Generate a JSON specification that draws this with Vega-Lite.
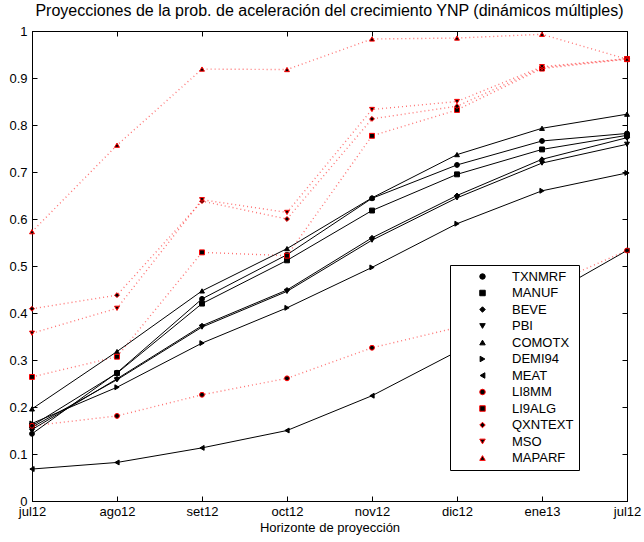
{
  "$schema": "https://vega.github.io/schema/vega-lite/v6.json",
  "width": 595,
  "height": 470,
  "autosize": {"type": "none"},
  "padding": {"left": 32, "top": 31, "right": 17, "bottom": 41},
  "background": "white",
  "title": {"text": "Proyecciones de la prob. de aceleración del crecimiento YNP (dinámicos múltiples)", "font": "Liberation Sans", "fontSize": 16, "fontWeight": "normal", "color": "black", "offset": 6},
  "config": {
    "view": {"stroke": "black", "strokeWidth": 1},
    "axis": {"labelFont": "Liberation Sans", "labelFontSize": 13, "labelColor": "black", "tickColor": "black", "domainColor": "black", "grid": false, "tickSize": -5, "labelPadding": 9, "titleFont": "Liberation Sans", "titleFontWeight": "normal", "titleColor": "black", "labelFlush": false, "labelOverlap": false},
    "legend": {"orient": "none", "legendX": 418, "legendY": 234, "title": null, "labelFont": "Liberation Sans", "labelFontSize": 13, "labelColor": "black", "symbolSize": 30, "symbolOpacity": 1, "symbolOffset": 21, "labelOffset": 23, "rowPadding": 2.5, "padding": 5, "fillColor": "white", "strokeColor": "black"}
  },
  "datasets": {"d": [
    {"s":"TXNMRF","h":0,"p":0.143},{"s":"TXNMRF","h":1,"p":0.273},{"s":"TXNMRF","h":2,"p":0.430},{"s":"TXNMRF","h":3,"p":0.524},{"s":"TXNMRF","h":4,"p":0.644},{"s":"TXNMRF","h":5,"p":0.715},{"s":"TXNMRF","h":6,"p":0.766},{"s":"TXNMRF","h":7,"p":0.782},
    {"s":"MANUF","h":0,"p":0.160},{"s":"MANUF","h":1,"p":0.272},{"s":"MANUF","h":2,"p":0.420},{"s":"MANUF","h":3,"p":0.512},{"s":"MANUF","h":4,"p":0.618},{"s":"MANUF","h":5,"p":0.695},{"s":"MANUF","h":6,"p":0.748},{"s":"MANUF","h":7,"p":0.778},
    {"s":"BEVE","h":0,"p":0.152},{"s":"BEVE","h":1,"p":0.260},{"s":"BEVE","h":2,"p":0.373},{"s":"BEVE","h":3,"p":0.449},{"s":"BEVE","h":4,"p":0.560},{"s":"BEVE","h":5,"p":0.650},{"s":"BEVE","h":6,"p":0.727},{"s":"BEVE","h":7,"p":0.773},
    {"s":"PBI","h":0,"p":0.157},{"s":"PBI","h":1,"p":0.258},{"s":"PBI","h":2,"p":0.370},{"s":"PBI","h":3,"p":0.446},{"s":"PBI","h":4,"p":0.555},{"s":"PBI","h":5,"p":0.645},{"s":"PBI","h":6,"p":0.719},{"s":"PBI","h":7,"p":0.759},
    {"s":"COMOTX","h":0,"p":0.196},{"s":"COMOTX","h":1,"p":0.318},{"s":"COMOTX","h":2,"p":0.447},{"s":"COMOTX","h":3,"p":0.537},{"s":"COMOTX","h":4,"p":0.645},{"s":"COMOTX","h":5,"p":0.737},{"s":"COMOTX","h":6,"p":0.793},{"s":"COMOTX","h":7,"p":0.823},
    {"s":"DEMI94","h":0,"p":0.165},{"s":"DEMI94","h":1,"p":0.242},{"s":"DEMI94","h":2,"p":0.336},{"s":"DEMI94","h":3,"p":0.411},{"s":"DEMI94","h":4,"p":0.497},{"s":"DEMI94","h":5,"p":0.590},{"s":"DEMI94","h":6,"p":0.660},{"s":"DEMI94","h":7,"p":0.698},
    {"s":"MEAT","h":0,"p":0.068},{"s":"MEAT","h":1,"p":0.082},{"s":"MEAT","h":2,"p":0.113},{"s":"MEAT","h":3,"p":0.150},{"s":"MEAT","h":4,"p":0.224},{"s":"MEAT","h":5,"p":0.318},{"s":"MEAT","h":6,"p":0.430},{"s":"MEAT","h":7,"p":0.533},
    {"s":"LI8MM","h":0,"p":0.160},{"s":"LI8MM","h":1,"p":0.181},{"s":"LI8MM","h":2,"p":0.226},{"s":"LI8MM","h":3,"p":0.261},{"s":"LI8MM","h":4,"p":0.326},{"s":"LI8MM","h":5,"p":0.369},{"s":"LI8MM","h":6,"p":0.453},{"s":"LI8MM","h":7,"p":0.533},
    {"s":"LI9ALG","h":0,"p":0.264},{"s":"LI9ALG","h":1,"p":0.307},{"s":"LI9ALG","h":2,"p":0.529},{"s":"LI9ALG","h":3,"p":0.522},{"s":"LI9ALG","h":4,"p":0.777},{"s":"LI9ALG","h":5,"p":0.832},{"s":"LI9ALG","h":6,"p":0.920},{"s":"LI9ALG","h":7,"p":0.940},
    {"s":"QXNTEXT","h":0,"p":0.409},{"s":"QXNTEXT","h":1,"p":0.438},{"s":"QXNTEXT","h":2,"p":0.638},{"s":"QXNTEXT","h":3,"p":0.600},{"s":"QXNTEXT","h":4,"p":0.813},{"s":"QXNTEXT","h":5,"p":0.840},{"s":"QXNTEXT","h":6,"p":0.922},{"s":"QXNTEXT","h":7,"p":0.941},
    {"s":"MSO","h":0,"p":0.357},{"s":"MSO","h":1,"p":0.410},{"s":"MSO","h":2,"p":0.641},{"s":"MSO","h":3,"p":0.614},{"s":"MSO","h":4,"p":0.833},{"s":"MSO","h":5,"p":0.850},{"s":"MSO","h":6,"p":0.924},{"s":"MSO","h":7,"p":0.941},
    {"s":"MAPARF","h":0,"p":0.573},{"s":"MAPARF","h":1,"p":0.757},{"s":"MAPARF","h":2,"p":0.919},{"s":"MAPARF","h":3,"p":0.918},{"s":"MAPARF","h":4,"p":0.983},{"s":"MAPARF","h":5,"p":0.985},{"s":"MAPARF","h":6,"p":0.993},{"s":"MAPARF","h":7,"p":0.940}
  ]},
  "data": {"name": "d"},
  "resolve": {"axis": {"x": "independent", "y": "independent"}},
  "layer": [
    {
      "transform": [{"filter": {"field": "s", "oneOf": ["LI8MM","LI9ALG","QXNTEXT","MSO","MAPARF"]}}],
      "mark": {"type": "line", "color": "#ff0000", "strokeWidth": 1.4, "strokeDash": [1, 3], "opacity": 0.55},
      "encoding": {
        "x": {"field": "h", "type": "quantitative", "scale": {"domain": [0, 7], "nice": false, "zero": false},
              "axis": {"orient": "bottom", "values": [0,1,2,3,4,5,6,7], "labelExpr": "['jul12','ago12','set12','oct12','nov12','dic12','ene13','jul12'][datum.value]", "title": "Horizonte de proyección", "titleFontSize": 13, "titlePadding": 3}},
        "y": {"field": "p", "type": "quantitative", "scale": {"domain": [0, 1], "nice": false, "zero": false},
              "axis": {"orient": "left", "values": [0,0.1,0.2,0.3,0.4,0.5,0.6,0.7,0.8,0.9,1], "format": "~g", "title": null, "labelPadding": 10}},
        "detail": {"field": "s", "type": "nominal"}
      }
    },
    {
      "transform": [{"filter": {"field": "s", "oneOf": ["TXNMRF","MANUF","BEVE","PBI","COMOTX","DEMI94","MEAT"]}}],
      "mark": {"type": "line", "color": "black", "strokeWidth": 1},
      "encoding": {
        "x": {"field": "h", "type": "quantitative", "axis": null},
        "y": {"field": "p", "type": "quantitative", "axis": null},
        "detail": {"field": "s", "type": "nominal"}
      }
    },
    {
      "mark": {"type": "point", "fill": "black", "size": 24, "opacity": 1},
      "encoding": {
        "x": {"field": "h", "type": "quantitative",
              "axis": {"orient": "top", "values": [0,1,2,3,4,5,6,7], "labels": false, "title": null}},
        "y": {"field": "p", "type": "quantitative",
              "axis": {"orient": "right", "values": [0,0.1,0.2,0.3,0.4,0.5,0.6,0.7,0.8,0.9,1], "labels": false, "title": null}},
        "shape": {"field": "s", "type": "nominal",
          "scale": {"domain": ["TXNMRF","MANUF","BEVE","PBI","COMOTX","DEMI94","MEAT","LI8MM","LI9ALG","QXNTEXT","MSO","MAPARF"],
                    "range": ["circle","square","diamond","triangle-down","triangle-up","triangle-right","triangle-left","circle","square","diamond","triangle-down","triangle-up"]}},
        "stroke": {"field": "s", "type": "nominal",
          "scale": {"domain": ["TXNMRF","MANUF","BEVE","PBI","COMOTX","DEMI94","MEAT","LI8MM","LI9ALG","QXNTEXT","MSO","MAPARF"],
                    "range": ["black","black","black","black","black","black","black","#ff0000","#ff0000","#ff0000","#ff0000","#ff0000"]}},
        "strokeWidth": {"field": "s", "type": "nominal",
          "scale": {"domain": ["TXNMRF","MANUF","BEVE","PBI","COMOTX","DEMI94","MEAT","LI8MM","LI9ALG","QXNTEXT","MSO","MAPARF"],
                    "range": [1,1,1,1,1,1,1,1.5,1.5,1.5,1.5,1.5]}}
      }
    }
  ]
}
